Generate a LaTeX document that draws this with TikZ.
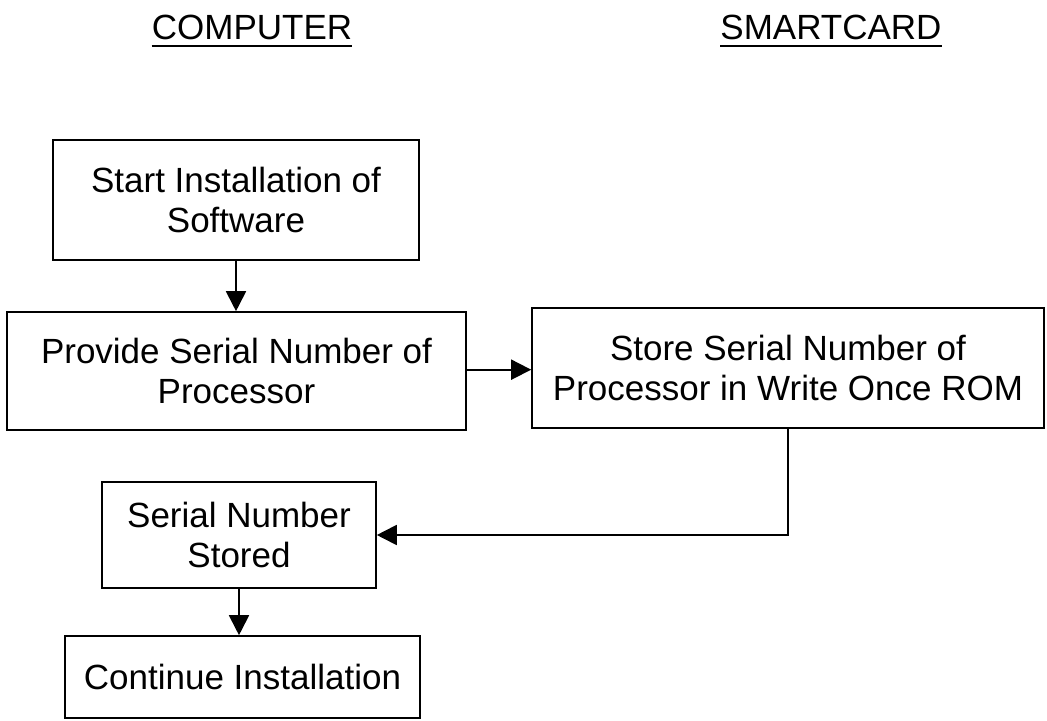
\documentclass[tikz,border=0pt]{standalone}
\usepackage{fontspec}
\setmainfont{Liberation Sans}
\usetikzlibrary{arrows.meta}
\begin{document}
\begin{tikzpicture}[x=0.75pt,y=-0.75pt,
  box/.style={draw,line width=1.2pt,inner sep=0pt,align=center,
    font=\fontsize{26.25pt}{30.4pt}\selectfont},
  head/.style={inner sep=0pt,anchor=base,font=\fontsize{26.25pt}{30.4pt}\selectfont},
  conn/.style={line width=1.4pt,-{Triangle[length=15pt,width=15pt]}},
  uline/.style={line width=1.5pt}]
\useasboundingbox (0,0) rectangle (1047,721);
\node[head] (h1) at (252,39) {COMPUTER};
\node[head] (h2) at (831,39) {SMARTCARD};
\draw[uline] ([yshift=-5pt]h1.base west) -- ([yshift=-5pt]h1.base east);
\draw[uline] ([yshift=-5pt]h2.base west) -- ([yshift=-5pt]h2.base east);
\node[box,minimum width={366*0.75pt},minimum height={120*0.75pt}] (b1) at (236,200) {Start Installation of\\Software};
\node[box,minimum width={459*0.75pt},minimum height={118*0.75pt}] (b2) at (236.5,371) {Provide Serial Number of\\Processor};
\node[box,minimum width={512*0.75pt},minimum height={120*0.75pt}] (b3) at (788,368) {Store Serial Number of\\Processor in Write Once ROM};
\node[box,minimum width={274*0.75pt},minimum height={106*0.75pt}] (b4) at (239,535) {Serial Number\\Stored};
\node[box,minimum width={355*0.75pt},minimum height={82*0.75pt}] (b5) at (242.5,677) {Continue Installation};
\draw[conn] (b1.south) -- (b1.south |- b2.north);
\draw[conn] ([yshift=1pt]b2.east) -- ([yshift=1pt]b2.east -| b3.west);
\draw[conn] (b3.south) -- (b3.south |- b4.east) -- (b4.east);
\draw[conn] (b4.south) -- (b4.south |- b5.north);
\end{tikzpicture}
\end{document}
